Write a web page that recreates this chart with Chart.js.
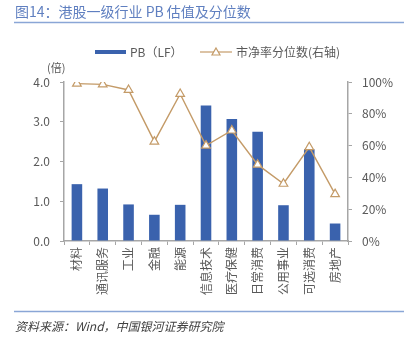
<!DOCTYPE html>
<html>
<head>
<meta charset="utf-8">
<script src="https://cdn.jsdelivr.net/npm/chart.js@4.4.0/dist/chart.umd.min.js"></script>
<style>
  html, body { margin: 0; padding: 0; background: #fff; }
  #wrap { width: 406px; height: 341px; position: relative; }
</style>
</head>
<body>
<div id="wrap"><canvas id="chart" width="406" height="341"></canvas></div>
<script>
// 行业、PB 与分位数
const categories = ['材料', '通讯服务', '工业', '金融', '能源', '信息技术', '医疗保健', '日常消费', '公用事业', '可选消费', '房地产']
const pbValues = [1.43, 1.32, 0.92, 0.66, 0.91, 3.41, 3.07, 2.75, 0.90, 2.31, 0.44]
const pctValues = [99, 98.5, 95, 62.5, 92.5, 60, 69.5, 48, 36, 59, 29.5]
const pbTicks = [0, 1, 2, 3, 4]
const pctTicks = [0, 20, 40, 60, 80, 100]

const CJK = '"Noto Sans CJK SC", "Noto Sans", sans-serif'
const BAR_COLOR = '#3a62ad'
const LINE_COLOR = '#c49b68'
const AXIS_COLOR = '#a6a6a6'
const TEXT_COLOR = '#595959'

// title, rules, legend and unit label drawn around the plot
const frame = {
    id: 'frame',
    afterDraw(chart) {
        const ctx = chart.ctx
        ctx.save()

        ctx.fillStyle = '#5f7fc0'
        ctx.font = '14px ' + CJK
        ctx.textBaseline = 'middle'
        ctx.textAlign = 'left'
        ctx.fillText('图14：港股一级行业 PB 估值及分位数', 15, 12)

        ctx.strokeStyle = '#8aa6d6'
        ctx.lineWidth = 1.5
        ctx.beginPath()
        ctx.moveTo(14, 22.5); ctx.lineTo(404, 22.5)
        ctx.moveTo(14, 311.5); ctx.lineTo(404, 311.5)
        ctx.stroke()

        ctx.fillStyle = '#404040'
        ctx.font = 'italic 12px ' + CJK
        ctx.fillText('资料来源：Wind，中国银河证券研究院', 15, 326)

        // legend
        ctx.font = '12px ' + CJK
        ctx.fillStyle = BAR_COLOR
        ctx.fillRect(95, 50, 31, 4)
        ctx.fillStyle = TEXT_COLOR
        ctx.fillText('PB（LF）', 130, 52)

        ctx.strokeStyle = LINE_COLOR
        ctx.lineWidth = 1.2
        ctx.beginPath()
        ctx.moveTo(200, 52); ctx.lineTo(232, 52)
        ctx.stroke()
        ctx.fillStyle = '#fff'
        ctx.beginPath()
        ctx.moveTo(216, 48); ctx.lineTo(220, 55); ctx.lineTo(212, 55); ctx.closePath()
        ctx.fill(); ctx.stroke()
        ctx.fillStyle = TEXT_COLOR
        ctx.fillText('市净率分位数(右轴)', 236, 52)

        ctx.font = '11px ' + CJK
        ctx.fillText('(倍)', 47, 68)

        ctx.restore()
    }
}

new Chart(document.getElementById('chart'), {
    type: 'bar',
    data: {
        labels: categories,
        datasets: [
            {
                type: 'line',
                label: '市净率分位数(右轴)',
                data: pctValues,
                yAxisID: 'y1',
                borderColor: LINE_COLOR,
                borderWidth: 1.4,
                pointStyle: 'triangle',
                pointRadius: 5,
                pointBorderWidth: 1.2,
                pointBackgroundColor: '#fff',
                pointBorderColor: LINE_COLOR,
                tension: 0,
                order: 0,
            },
            {
                label: 'PB（LF）',
                data: pbValues,
                yAxisID: 'y',
                backgroundColor: BAR_COLOR,
                barPercentage: 0.41,
                categoryPercentage: 1,
                order: 1,
            },
        ],
    },
    options: {
        responsive: false,
        animation: false,
        layout: { padding: { top: 82, left: 0, right: 0, bottom: 0 } },
        plugins: { legend: { display: false }, tooltip: { enabled: false } },
        scales: {
            x: {
                offset: true,
                grid: { display: true, drawOnChartArea: false, offset: true, tickLength: 4, color: AXIS_COLOR },
                border: { color: AXIS_COLOR, width: 1.5 },
                ticks: {
                    minRotation: 90, maxRotation: 90, padding: 2,
                    color: TEXT_COLOR, font: { family: CJK, size: 12 },
                },
                afterFit(scale) { scale.height = 100 },
            },
            y: {
                position: 'left',
                min: 0, max: 4,
                afterBuildTicks(scale) { scale.ticks = pbTicks.map(v => ({ value: v })) },
                grid: { drawOnChartArea: false, tickLength: 4, color: AXIS_COLOR },
                border: { color: AXIS_COLOR, width: 1.5 },
                ticks: {
                    padding: 10, color: TEXT_COLOR, font: { family: CJK, size: 12 },
                    callback: v => v.toFixed(1),
                },
                afterFit(scale) { scale.width = 64 },
            },
            y1: {
                position: 'right',
                min: 0, max: 100,
                afterBuildTicks(scale) { scale.ticks = pctTicks.map(v => ({ value: v })) },
                grid: { drawOnChartArea: false, tickLength: 4, color: AXIS_COLOR },
                border: { color: AXIS_COLOR, width: 1.5 },
                ticks: {
                    padding: 10, color: TEXT_COLOR, font: { family: CJK, size: 12 },
                    callback: v => v + '%',
                },
                afterFit(scale) { scale.width = 58 },
            },
        },
    },
    plugins: [frame],
})
</script>
</body>
</html>
